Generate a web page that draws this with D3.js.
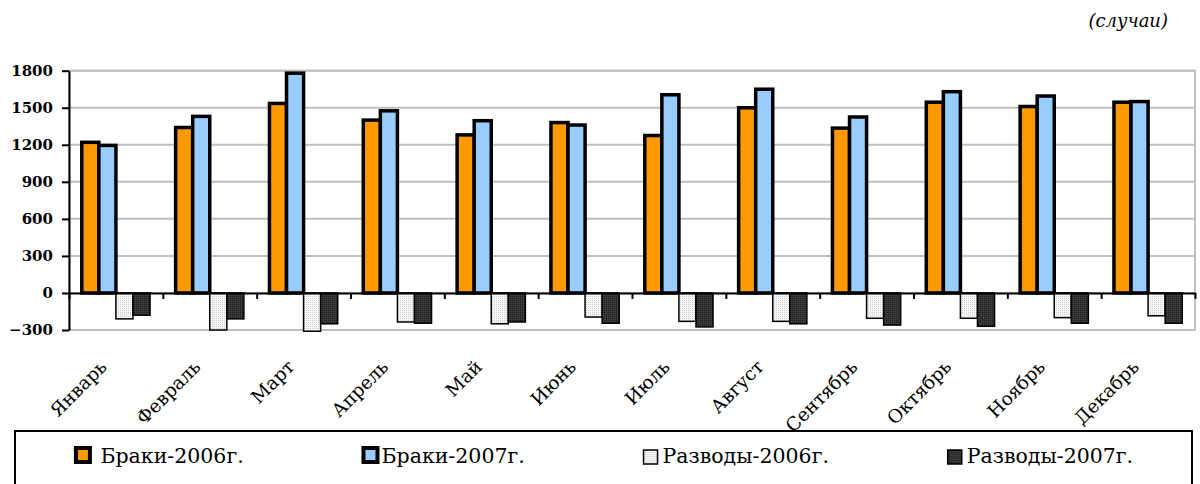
<!DOCTYPE html>
<html>
<head>
<meta charset="utf-8">
<script src="https://cdn.jsdelivr.net/npm/d3@7"></script>
<style>
  body { margin: 0; background: #fff; }
  svg { display: block; }
  text { font-family: "DejaVu Serif", serif; fill: #000; }
  .y.axis text { font-weight: bold; font-size: 15px; }
  .month { font-size: 18.5px; }
  .legend text { font-size: 20.5px; white-space: pre; }
  .unit { font-size: 18px; font-style: italic; }
</style>
</head>
<body>
<svg id="chart" width="1200" height="484"></svg>
<script>
// Data
var months = ["Январь", "Февраль", "Март", "Апрель", "Май", "Июнь",
  "Июль", "Август", "Сентябрь", "Октябрь", "Ноябрь", "Декабрь"];
var marriages2006 = [1220, 1340, 1535, 1400, 1280, 1380, 1275, 1500, 1335, 1545, 1510, 1545];
var marriages2007 = [1195, 1430, 1780, 1475, 1395, 1360, 1605, 1650, 1425, 1630, 1595, 1550];
var divorces2006 = [-210, -300, -310, -235, -250, -195, -230, -230, -205, -205, -200, -185];
var divorces2007 = [-180, -210, -250, -245, -235, -245, -275, -250, -260, -270, -245, -245];
var seriesNames = [" Браки-2006г.", "Браки-2007г.", "Разводы-2006г.", "Разводы-2007г."];
var yTicks = [-300, 0, 300, 600, 900, 1200, 1500, 1800];
var unitLabel = "(случаи)";

var seriesValues = [marriages2006, marriages2007, divorces2006, divorces2007];

// Styling per series
var FILLS = ["#ff9900", "#99ccff", "url(#dotsLight)", "url(#dotsDark)"];
var STROKES = [3.5, 3.5, 1.5, 1.5];

var svg = d3.select("#chart");

// Patterns for the divorce bars
var defs = svg.append("defs");
var light = defs.append("pattern")
  .attr("id", "dotsLight")
  .attr("width", 2).attr("height", 2)
  .attr("patternUnits", "userSpaceOnUse");
light.append("rect").attr("width", 2).attr("height", 2).attr("fill", "#f6f6f6");
light.append("rect").attr("width", 1).attr("height", 1).attr("fill", "#cfcfcf");

var dark = defs.append("pattern")
  .attr("id", "dotsDark")
  .attr("width", 2).attr("height", 2)
  .attr("patternUnits", "userSpaceOnUse");
dark.append("rect").attr("width", 2).attr("height", 2).attr("fill", "#3a3a3a");
dark.append("rect").attr("width", 1).attr("height", 1).attr("fill", "#1a1a1a");

// Plot area
var plot = { left: 69, right: 1195, top: 70.7, bottom: 330 };

var xScale = d3.scaleBand()
  .domain(months)
  .range([plot.left, plot.right]);

var xInner = d3.scaleBand()
  .domain(d3.range(seriesNames.length))
  .range([0, xScale.bandwidth()])
  .paddingOuter(0.75);

var yScale = d3.scaleLinear()
  .domain([yTicks[0], yTicks[yTicks.length - 1]])
  .range([plot.bottom, plot.top]);

// Grid lines
svg.append("g")
  .attr("class", "grid")
  .selectAll("line")
  .data(yTicks)
  .enter()
  .append("line")
  .attr("x1", plot.left)
  .attr("x2", plot.right)
  .attr("y1", d => yScale(d))
  .attr("y2", d => yScale(d))
  .attr("stroke", "#c0c0c0")
  .attr("stroke-width", 2);

// Plot area border
svg.append("rect")
  .attr("x", plot.left)
  .attr("y", plot.top)
  .attr("width", plot.right - plot.left)
  .attr("height", plot.bottom - plot.top)
  .attr("fill", "none")
  .attr("stroke", "#c0c0c0")
  .attr("stroke-width", 2);

// Bars
var rows = [];
months.forEach(function(m, i) {
  seriesValues.forEach(function(vals, s) {
    rows.push({ month: m, series: s, value: vals[i] });
  });
});

svg.append("g")
  .attr("class", "bars")
  .selectAll("rect")
  .data(rows)
  .enter()
  .append("rect")
  .attr("x", d => xScale(d.month) + xInner(d.series))
  .attr("width", xInner.bandwidth())
  .attr("y", d => yScale(Math.max(0, d.value)))
  .attr("height", d => Math.abs(yScale(d.value) - yScale(0)))
  .attr("fill", d => FILLS[d.series])
  .attr("stroke", "#000")
  .attr("stroke-width", d => STROKES[d.series]);

// Category axis on the zero line, ticks between months
var boundary = d3.scaleLinear()
  .domain([0, months.length])
  .range([plot.left, plot.right]);

var xAxis = d3.axisBottom(boundary)
  .tickValues(d3.range(months.length + 1))
  .tickSize(6)
  .tickSizeOuter(0)
  .tickFormat("");

svg.append("g")
  .attr("class", "x axis")
  .attr("transform", "translate(0," + yScale(0) + ")")
  .call(xAxis)
  .call(g => g.selectAll("line, path").attr("stroke", "#000").attr("stroke-width", 2));

// Month labels
svg.append("g")
  .attr("class", "months")
  .selectAll("text")
  .data(months)
  .enter()
  .append("text")
  .attr("class", "month")
  .attr("text-anchor", "end")
  .attr("transform", d => "translate(" + (xScale(d) + xScale.bandwidth() / 2 - 8) + ",368) rotate(-45)")
  .text(d => d);

// Value axis
var yAxis = d3.axisLeft(yScale)
  .tickValues(yTicks)
  .tickSize(7)
  .tickSizeOuter(0)
  .tickPadding(9)
  .tickFormat(d3.format("d"));

svg.append("g")
  .attr("class", "y axis")
  .attr("transform", "translate(" + plot.left + ",0)")
  .call(yAxis)
  .attr("font-family", "DejaVu Serif")
  .call(g => g.selectAll("line, path").attr("stroke", "#000").attr("stroke-width", 2))
  .call(g => g.selectAll("text").attr("fill", "#000"));

// Units label
svg.append("text")
  .attr("class", "unit")
  .attr("x", 1168)
  .attr("y", 27)
  .attr("text-anchor", "end")
  .text(unitLabel);

// Legend
var legendBox = { x: 15, y: 431, width: 1177, height: 70 };
var legend = svg.append("g").attr("class", "legend");

legend.append("rect")
  .attr("x", legendBox.x)
  .attr("y", legendBox.y)
  .attr("width", legendBox.width)
  .attr("height", legendBox.height)
  .attr("fill", "#fff")
  .attr("stroke", "#000")
  .attr("stroke-width", 2);

var textOffset = 20;
var items = legend.selectAll(".item")
  .data(seriesNames)
  .enter()
  .append("g")
  .attr("class", "item");

items.append("text")
  .attr("x", textOffset)
  .attr("y", 463)
  .text(d => d);

items.each(function(d, i) {
  var g = d3.select(this);
  if (i < 2) {
    g.append("rect")
      .attr("x", 2).attr("y", 448)
      .attr("width", 14).attr("height", 14)
      .attr("fill", FILLS[i])
      .attr("stroke", "#000")
      .attr("stroke-width", 4);
  } else {
    g.append("rect")
      .attr("x", 1).attr("y", 450)
      .attr("width", 14).attr("height", 14)
      .attr("fill", FILLS[i])
      .attr("stroke", "#000")
      .attr("stroke-width", 1.5);
  }
});

// Spread legend items with equal gaps
var widths = [];
items.each(function() {
  widths.push(textOffset + this.querySelector("text").getComputedTextLength());
});
var gap = (legendBox.width - d3.sum(widths)) / widths.length;
var cursor = legendBox.x + gap / 2;
items.attr("transform", function(d, i) {
  var t = "translate(" + cursor + ",0)";
  cursor += widths[i] + gap;
  return t;
});
</script>
</body>
</html>
